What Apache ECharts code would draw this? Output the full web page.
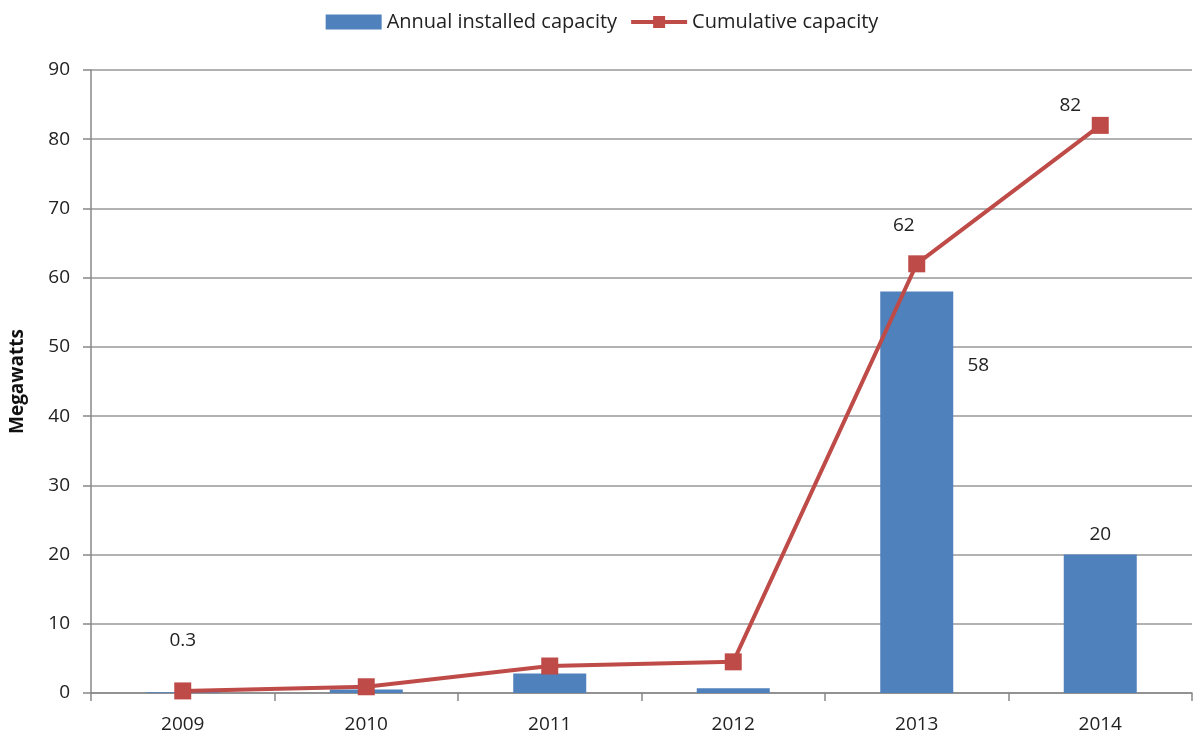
<!DOCTYPE html>
<html><head><meta charset="utf-8">
<script src="https://cdn.jsdelivr.net/npm/echarts@6/dist/echarts.min.js"></script>
<style>html,body{margin:0;padding:0;background:#fff}#c{width:1204px;height:740px}</style>
</head><body><div id="c"></div>
<script>
var categories = ['2009','2010','2011','2012','2013','2014'];
var annualCapacity = [0.1, 0.5, 2.8, 0.7, 58, 20];
var cumulativeCapacity = [0.3, 0.9, 3.9, 4.5, 62, 82];
var yTicks = {min: 0, max: 90, interval: 10};

var FONT = '"Open Sans", "Liberation Sans", sans-serif';
var lblBase = {show: true, color: '#222', fontSize: 19, fontFamily: FONT};

var barData = annualCapacity.map(function (v, i) {
  var d = {value: v};
  if (i === 4) d.label = Object.assign({}, lblBase, {position: [98, 74], align: 'center', verticalAlign: 'middle'});
  if (i === 5) d.label = Object.assign({}, lblBase, {position: 'top', distance: 10});
  return d;
});
var lineData = cumulativeCapacity.map(function (v, i) {
  var d = {value: v};
  if (i === 0) d.label = Object.assign({}, lblBase, {position: 'top', distance: 32});
  if (i === 4) d.label = Object.assign({}, lblBase, {position: 'top', distance: 20, offset: [-13, 0]});
  if (i === 5) d.label = Object.assign({}, lblBase, {position: 'top', distance: 2, offset: [-30, 0]});
  return d;
});

var chart = echarts.init(document.getElementById('c'));
chart.setOption({
  animation: false,
  textStyle: {fontFamily: FONT},
  legend: {
    top: 7, left: 'center', itemGap: 12, itemWidth: 56, itemHeight: 15,
    textStyle: {fontSize: 20, color: '#222', fontFamily: FONT},
    data: [
      {name: 'Annual installed capacity', icon: 'rect'},
      {name: 'Cumulative capacity', itemStyle: {color: '#BE4B48'}, lineStyle: {width: 4, color: '#BE4B48'}}
    ]
  },
  grid: {left: 88, right: 12, top: 70, bottom: 47},
  xAxis: {
    type: 'category', data: categories,
    axisLine: {lineStyle: {color: '#888', width: 1.5}},
    axisTick: {show: true, length: 8, lineStyle: {color: '#888', width: 1.5}},
    axisLabel: {fontSize: 19, color: '#222', margin: 22, fontFamily: FONT}
  },
  yAxis: {
    type: 'value', min: yTicks.min, max: yTicks.max, interval: yTicks.interval,
    name: 'Megawatts', nameLocation: 'middle', nameGap: 64,
    nameTextStyle: {fontSize: 19, fontWeight: 'bold', color: '#111', fontFamily: FONT},
    axisLine: {show: true, lineStyle: {color: '#888', width: 1.5}},
    axisTick: {show: true, length: 8, lineStyle: {color: '#888', width: 1.5}},
    axisLabel: {fontSize: 19, color: '#222', margin: 21, fontFamily: FONT},
    splitLine: {lineStyle: {color: '#999', width: 1.5}}
  },
  series: [
    {
      name: 'Annual installed capacity', type: 'bar', data: barData,
      barWidth: 73, itemStyle: {color: '#4F81BD'}
    },
    {
      name: 'Cumulative capacity', type: 'line', data: lineData,
      symbol: 'rect', symbolSize: 17,
      lineStyle: {color: '#BE4B48', width: 4},
      itemStyle: {color: '#BE4B48'}
    }
  ]
});
</script></body></html>
